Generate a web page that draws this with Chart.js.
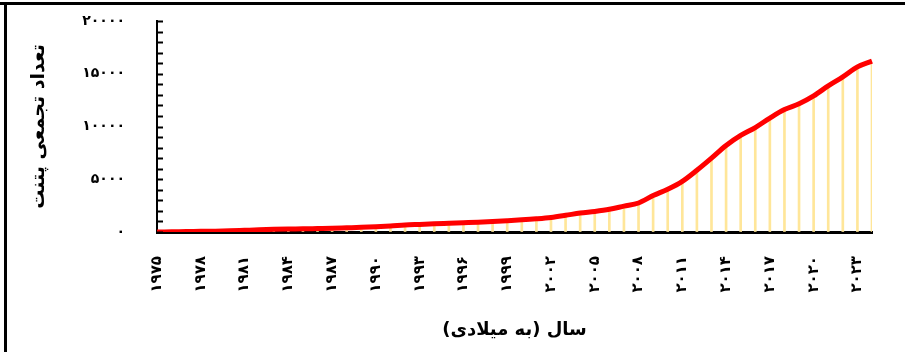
<!DOCTYPE html>
<html lang="fa">
<head>
<meta charset="utf-8">
<script src="https://cdn.jsdelivr.net/npm/chart.js@4.4.1/dist/chart.umd.min.js"></script>
<style>
  html, body { margin: 0; padding: 0; background: #fff; }
  #wrap { position: relative; width: 905px; height: 352px; overflow: hidden; }
  #frame-top { position: absolute; left: 0; top: 2px; width: 905px; height: 3px; background: #000; }
  #frame-left { position: absolute; left: 4px; top: 2px; width: 3px; height: 352px; background: #000; }
</style>
</head>
<body>
<div id="wrap">
  <canvas id="chart" width="905" height="352"></canvas>
  <div id="frame-top"></div>
  <div id="frame-left"></div>
</div>
<script>
// سال‌ها (میلادی)
const years = [
  1975, 1976, 1977, 1978, 1979, 1980, 1981, 1982, 1983, 1984,
  1985, 1986, 1987, 1988, 1989, 1990, 1991, 1992, 1993, 1994,
  1995, 1996, 1997, 1998, 1999, 2000, 2001, 2002, 2003, 2004,
  2005, 2006, 2007, 2008, 2009, 2010, 2011, 2012, 2013, 2014,
  2015, 2016, 2017, 2018, 2019, 2020, 2021, 2022, 2023, 2024
];

// تعداد تجمعی پتنت
const cumulativePatents = [
  0, 20, 40, 60, 80, 110, 160, 210, 250, 280,
  300, 330, 360, 400, 440, 500, 570, 660, 720, 780,
  830, 880, 930, 1000, 1070, 1150, 1250, 1380, 1580, 1800,
  1950, 2150, 2450, 2750, 3450, 4050, 4800, 5850, 7000, 8200,
  9150, 9900, 10800, 11600, 12150, 12900, 13850, 14700, 15650, 16200
];

// labelled ticks
const xTickYears = [1975, 1978, 1981, 1984, 1987, 1990, 1993, 1996, 1999, 2002, 2005, 2008, 2011, 2014, 2017, 2020, 2023];
const yTickValues = [0, 5000, 10000, 15000, 20000];

const xTitle = "سال (به میلادی)";
const yTitle = "تعداد تجمعی پتنت";

const FONT = "'DejaVu Sans', sans-serif";

/**
 * Latin digits -> Persian digits.
 */
function toPersian(n) {
  const digits = "۰۱۲۳۴۵۶۷۸۹";
  return String(n).replace(/[0-9]/g, (d) => digits[+d]);
}

// short tick marks drawn on the inner side of the y axis
const innerTicks = {
  id: "innerTicks",
  afterDatasetsDraw(chart) {
    const { ctx, scales } = chart;
    const y = scales.y;
    ctx.save();
    ctx.strokeStyle = "#000";
    ctx.lineWidth = 2;
    y.ticks.forEach((t) => {
      const py = Math.round(y.getPixelForValue(t.value)) + 0.5;
      ctx.beginPath();
      ctx.moveTo(y.right, py);
      ctx.lineTo(y.right + 6, py);
      ctx.stroke();
    });
    ctx.restore();
  }
};

const ctx = document.getElementById("chart").getContext("2d");

new Chart(ctx, {
  data: {
    labels: years,
    datasets: [
      {
        // thin drop lines under each point
        type: "bar",
        data: cumulativePatents,
        backgroundColor: "#FFE699",
        barThickness: 2,
        order: 1
      },
      {
        type: "line",
        data: cumulativePatents,
        borderColor: "#FF0000",
        borderWidth: 5,
        pointRadius: 0,
        cubicInterpolationMode: "monotone",
        fill: false,
        order: 0
      }
    ]
  },
  options: {
    responsive: false,
    devicePixelRatio: 1,
    animation: false,
    layout: { padding: { left: 5, top: 21, right: 33, bottom: 0 } },
    plugins: {
      legend: { display: false },
      tooltip: { enabled: false }
    },
    scales: {
      x: {
        type: "category",
        offset: false,
        grid: { display: true, drawOnChartArea: false, drawTicks: true, tickLength: 20, color: "transparent" },
        border: { display: true, color: "#000", width: 3 },
        ticks: {
          autoSkip: false,
          minRotation: 90,
          maxRotation: 90,
          padding: 4,
          color: "#000",
          font: { family: FONT, size: 15, weight: "bold" },
          callback: (value, index) => (xTickYears.includes(years[index]) ? toPersian(years[index]) : "")
        },
        title: {
          display: true,
          text: xTitle,
          color: "#000",
          font: { family: FONT, size: 18, weight: "bold" },
          padding: { top: 0, bottom: 11 }
        },
        afterFit: (scale) => { scale.height = 120; }
      },
      y: {
        min: 0,
        max: 20000,
        grid: { display: true, drawOnChartArea: false, drawTicks: true, tickLength: 28, color: "transparent" },
        border: { display: true, color: "#000", width: 2 },
        ticks: {
          stepSize: 1000,
          autoSkip: false,
          padding: 4,
          color: "#000",
          font: { family: FONT, size: 14, weight: "bold" },
          callback: (value) => (yTickValues.includes(value) ? toPersian(value) : "")
        },
        title: {
          display: true,
          text: yTitle,
          color: "#000",
          font: { family: FONT, size: 19, weight: "bold" },
          padding: { top: 23, bottom: 0 }
        },
        afterFit: (scale) => { scale.width = 152; }
      }
    }
  },
  plugins: [innerTicks]
});
</script>
</body>
</html>
